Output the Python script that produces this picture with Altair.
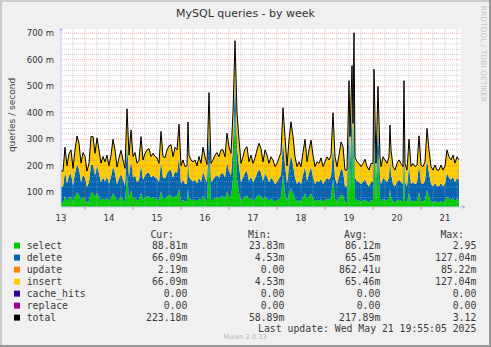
import altair as alt
import pandas as pd

# ---------------- data ----------------
# hours since May 13 00:00 (one sample per hour, half-hours around narrow spikes)
hours = [0,1,2,3,4,5,6,7,8,9,10,11,12,13,14,15,16,17,18,19,20,21,22,23,24,25,26,27,28,29,30,31,32,33,34,35,36,37,38,39,40,41,42,43,44,45,46,47,48,49,50,51,52,53,54,55,56,57,58,59,60,61,62,63,63.5,
         64,65,66,67,68,69,70,71,72,73,74,75,76,77,78,79,80,81,82,83,84,85,86,87,88,89,90,91,92,93,94,95,96,97,98,99,100,101,102,103,104,105,106,107,108,109,110,111,112,113,114,115,116,117,118,119,120,121,122,123,124,125,126,127,128,129,130,131,132,133,134,135,136,137,138,139,140,141,142,143,144,
         144.5,145.5,146,146.5,147,148,149,150,151,152,153,154,155,156,156.5,157.5,158.5,159.5,160,161,162,163,164,164.5,165,166,167,168,169,170,171,171.5,
         172,173,174,175,176,177,178,179,180,181,182,183,184,185,186,187,188,189,190,191,192,193,194,195,196,197,198,199]

# milli-queries / second
select_vals = [60,60,86,66,79,84,62,84,100,91,68,80,77,60,
               68,98,98,81,97,84,68,77,71,78,66,78,96,84,
               65,74,84,72,62,165,78,107,77,80,68,72,98,72,
               81,84,85,77,81,77,74,69,104,77,74,84,89,90,
               76,86,84,113,66,72,65,66,
               115,
               78,72,71,72,66,77,69,86,76,67,
               226,69,72,78,80,76,84,84,76,103,88,81,150,422,
               150,96,69,76,85,88,71,78,69,74,84,91,85,71,
               84,78,69,76,72,65,69,74,80,169,98,66,95,116,
               98,76,65,71,65,80,96,71,84,95,78,65,71,69,
               74,65,71,76,72,78,150,76,65,78,92,88,62,62,
               271,98,328,114,452,
               76,71,69,65,69,73,65,62,69,69,
               314,69,249,76,
               65,76,72,69,76,
               112,
               84,65,62,69,72,69,65,
               271,
               69,62,96,65,69,65,67,99,67,65,
               71,109,84,65,62,67,62,62,67,62,
               66,84,76,72,78,68,76,71]

delete_vals = [60,60,92,67,83,88,64,88,106,97,71,85,79,60,
               71,106,106,83,104,88,71,79,72,81,67,81,102,88,
               65,78,87,75,64,125,81,114,79,85,71,74,106,75,
               83,88,90,79,83,79,78,70,113,79,78,88,93,95,
               79,92,88,122,67,75,66,67,
               125,
               81,75,72,75,67,79,70,92,79,69,
               125,70,75,81,85,79,88,88,79,110,92,83,125,125,
               125,102,70,79,90,92,72,81,70,78,88,97,90,72,
               88,81,70,79,75,66,70,78,85,125,106,67,101,125,
               106,79,66,72,66,85,102,72,88,101,81,66,72,70,
               78,66,72,79,75,81,125,79,66,81,99,92,61,61,
               125,106,125,123,125,
               79,72,70,66,70,76,66,61,70,70,
               125,70,125,79,
               66,79,75,70,79,
               121,
               88,66,61,70,75,70,66,
               125,
               70,61,102,66,70,66,68,107,68,66,
               72,116,88,66,61,68,61,61,68,61,
               67,88,79,75,81,71,79,75]

# insert is reported identical to delete (same Cur/Min/Max)
insert_vals = list(delete_vals)
# update is zero except where noted
update_nonzero = {199: 2}
update_vals = [update_nonzero.get(h, 0) for h in hours]

series_names = ["select", "delete", "update", "insert", "cache_hits", "replace", "total"]
series_colors = ["#00CC00", "#0066B3", "#FF8000", "#FFCC00", "#330099", "#990099", "#000000"]
cur_vals = ["88.81m", "66.09m", "2.19m", "66.09m", "0.00\u00a0", "0.00\u00a0", "223.18m"]
min_vals = ["23.83m", "4.53m", "0.00\u00a0", "4.53m", "0.00\u00a0", "0.00\u00a0", "58.89m"]
avg_vals = ["86.12m", "65.45m", "862.41u", "65.46m", "0.00\u00a0", "0.00\u00a0", "217.89m"]
max_vals = ["2.95\u00a0", "127.04m", "85.22m", "127.04m", "0.00\u00a0", "0.00\u00a0", "3.12\u00a0"]

day_ticks = [0, 24, 48, 72, 96, 120, 144, 168, 192]
day_labels = ["13", "14", "15", "16", "17", "18", "19", "20", "21"]
y_ticks = [100, 200, 300, 400, 500, 600, 700]
y_labels = ["100 m", "200 m", "300 m", "400 m", "500 m", "600 m", "700 m"]

major_v = [12, 36, 60, 84, 108, 132, 156, 180]
minor_v = [h for h in range(6, 200, 6) if h not in major_v]
major_h = y_ticks
minor_h = [v for v in range(60, 701, 20) if v % 100 != 0]

# ---------------- layout ----------------
LEFT, TOP, W, H = 61, 29, 400, 178
FULL_W, FULL_H = 491, 347
XDOM = [0, 200]
YDOM = [44.5, 716]

rows = []
for k, (name, vals) in enumerate([("select", select_vals), ("delete", delete_vals),
                                  ("update", update_vals), ("insert", insert_vals)]):
    for t, v in zip(hours, vals):
        rows.append({"t": t, "v": v, "series": name, "k": k})
df = pd.DataFrame(rows)

xscale = alt.Scale(domain=XDOM, nice=False, zero=False)
yscale = alt.Scale(domain=YDOM, nice=False, zero=False)

area = alt.Chart(df).mark_area(interpolate="linear", clip=True, opacity=1).encode(
    x=alt.X("t:Q", scale=xscale, axis=None),
    y=alt.Y("v:Q", stack="zero", scale=yscale, axis=None),
    color=alt.Color("series:N", scale=alt.Scale(domain=series_names[:4], range=series_colors[:4]), legend=None),
    order=alt.Order("k:Q", sort="ascending"),
)

total_line = alt.Chart(df).transform_aggregate(
    v="sum(v)", groupby=["t"]
).mark_line(color="#000000", strokeWidth=1, clip=True, interpolate="linear").encode(
    x=alt.X("t:Q", scale=xscale, axis=None),
    y=alt.Y("v:Q", scale=yscale, axis=None),
)

def vgrid(vals, color, opacity):
    return alt.Chart(pd.DataFrame({"t": vals})).mark_rule(
        color=color, opacity=opacity, strokeDash=[1, 1], strokeWidth=1).encode(
        x=alt.X("t:Q", scale=xscale, axis=None))

def hgrid(vals, color, opacity):
    return alt.Chart(pd.DataFrame({"v": vals})).mark_rule(
        color=color, opacity=opacity, strokeDash=[1, 1], strokeWidth=1).encode(
        y=alt.Y("v:Q", scale=yscale, axis=None))

grid_layers = [vgrid(minor_v, "#A8A8A8", 0.55), hgrid(minor_h, "#A8A8A8", 0.55),
               vgrid(major_v, "#FF3030", 0.4), hgrid(major_h, "#FF3030", 0.4)]

AXIS_COL = "#C4C8F0"
y_axis_line = alt.Chart(pd.DataFrame({"a": [0]})).mark_rule(color=AXIS_COL, strokeWidth=1).encode(
    x=alt.value(0), y=alt.value(0), y2=alt.value(H))
x_axis_line = alt.Chart(pd.DataFrame({"a": [0]})).mark_rule(color=AXIS_COL, strokeWidth=1).encode(
    x=alt.value(0), x2=alt.value(W + 2), y=alt.value(H))

noon_ticks = alt.Chart(pd.DataFrame({"t": major_v})).mark_rule(color="#F08080", strokeWidth=1).encode(
    x=alt.X("t:Q", scale=xscale, axis=None), y=alt.value(H), y2=alt.value(H + 3))

ylab = alt.Chart(pd.DataFrame({"v": y_ticks, "lab": y_labels})).mark_text(
    font="DejaVu Sans", fontSize=8.5, color="#333333", align="right", baseline="middle").encode(
    x=alt.value(-7), y=alt.Y("v:Q", scale=yscale, axis=None), text="lab:N")

xlab = alt.Chart(pd.DataFrame({"t": day_ticks, "lab": day_labels})).mark_text(
    font="DejaVu Sans", fontSize=8.5, color="#333333", align="center", baseline="alphabetic").encode(
    x=alt.X("t:Q", scale=xscale, axis=None), y=alt.value(220.7 - TOP), text="lab:N")

one = pd.DataFrame({"a": [0]})

def txt(text, x, y, size, color, font="DejaVu Sans", align="left", baseline="alphabetic", angle=0, **kw):
    props = dict(text=text, font=font, fontSize=size, color=color, align=align, baseline=baseline)
    if angle:
        props["angle"] = angle
    props.update(kw)
    return alt.Chart(one).mark_text(**props).encode(x=alt.value(x - LEFT), y=alt.value(y - TOP))

def box(x1, y1, x2, y2, color):
    return alt.Chart(one).mark_rect(color=color, opacity=1).encode(
        x=alt.value(x1 - LEFT), x2=alt.value(x2 - LEFT), y=alt.value(y1 - TOP), y2=alt.value(y2 - TOP))

arrow_up = alt.Chart(one).mark_point(shape="triangle-up", filled=True, color="#B4BCF4", size=18, opacity=1).encode(
    x=alt.value(0), y=alt.value(0))
arrow_right = alt.Chart(one).mark_point(shape="triangle-right", filled=True, color="#B4BCF4", size=18, opacity=1).encode(
    x=alt.value(W + 3), y=alt.value(H))

MONO = "DejaVu Sans Mono"
LS = 9.8
LCOL = "#3A3A3A"
row0 = 249.3
texts = [
    txt("MySQL queries - by week", 245.5, 17.3, 11, "#333333", align="center"),
    txt("queries / second", 11.7, 115, 9, "#444444", align="center", baseline="middle", angle=270),
    txt("RRDTOOL / TOBI OETIKER", 482.5, 54, 7.5, "#C4C4C4", align="center", baseline="middle", angle=90),
    txt("Cur:", 174, 237.5, LS, LCOL, font=MONO, align="right"),
    txt("Min:", 271.5, 237.5, LS, LCOL, font=MONO, align="right"),
    txt("Avg:", 367.5, 237.5, LS, LCOL, font=MONO, align="right"),
    txt("Max:", 464, 237.5, LS, LCOL, font=MONO, align="right"),
    txt("\n".join(series_names), 26.7, row0, LS, LCOL, font=MONO, lineBreak="\n", lineHeight=12),
    txt("\n".join(cur_vals), 187.3, row0, LS, LCOL, font=MONO, align="right", lineBreak="\n", lineHeight=12),
    txt("\n".join(min_vals), 284.3, row0, LS, LCOL, font=MONO, align="right", lineBreak="\n", lineHeight=12),
    txt("\n".join(avg_vals), 380.3, row0, LS, LCOL, font=MONO, align="right", lineBreak="\n", lineHeight=12),
    txt("\n".join(max_vals), 476.3, row0, LS, LCOL, font=MONO, align="right", lineBreak="\n", lineHeight=12),
    txt("Last update: Wed May 21 19:55:05 2025", 476.3, 332, LS, LCOL, font=MONO, align="right"),
    txt("Munin 2.0.33", 245, 338.5, 6.7, "#B4B4B4", align="center"),
]

swatches = []
for i, c in enumerate(series_colors):
    swatches.append(alt.Chart(one).mark_square(color=c, size=36, filled=True, opacity=1).encode(
        x=alt.value(17 - LEFT), y=alt.value(245.6 + 12 * i - TOP)))

borders = [
    box(0, 0, 2, FULL_H, "#CBCBCB"),
    box(0, 0, FULL_W, 2, "#CBCBCB"),
    box(FULL_W - 2, 0, FULL_W, FULL_H, "#999999"),
    box(0, FULL_H - 2, FULL_W, FULL_H, "#999999"),
]

chart = alt.layer(
    area, *grid_layers, total_line, y_axis_line, x_axis_line, noon_ticks, ylab, xlab,
    arrow_up, arrow_right, *texts, *swatches, *borders
).properties(
    width=W, height=H,
    autosize=alt.AutoSizeParams(type="none"),
    padding={"left": LEFT, "top": TOP, "right": FULL_W - LEFT - W, "bottom": FULL_H - TOP - H},
    background="#F0F0F0",
).configure_view(fill="white", stroke=None)

chart.save("out.html", embed_options={"renderer": "svg", "actions": False})
